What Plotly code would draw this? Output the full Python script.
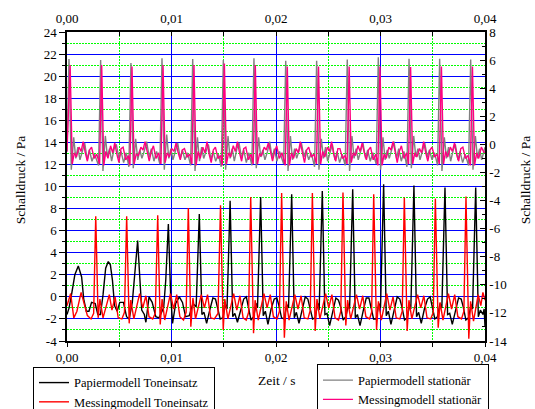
import plotly.graph_objects as go

# ---------------- data (time in ms, pressure in Pa) ----------------
zeit_papier_ton_ms = [
    0.00, 0.20, 0.45, 0.75, 1.08, 1.25, 1.40, 1.60, 1.85, 2.10, 2.35, 2.70, 2.95, 3.20, 3.45, 3.70, 3.95,
    4.15, 4.35, 4.55, 4.80, 5.05, 5.40, 5.70, 5.95, 6.25, 6.50, 6.76,
    6.95, 7.15, 7.40, 7.55, 7.85, 8.15, 8.50, 8.80, 9.25, 9.45, 9.70,
    9.92, 10.10, 10.40, 10.75, 11.05, 11.35, 11.70, 12.05, 12.36, 12.66,
    12.91, 13.11, 13.36, 13.66, 13.96, 14.21, 14.41, 14.66, 14.91, 15.16, 15.31, 15.61,
    15.86, 16.06, 16.31, 16.61, 16.91, 17.16, 17.36, 17.61, 17.86, 18.11, 18.23, 18.53,
    18.78, 18.98, 19.23, 19.53, 19.83, 20.08, 20.28, 20.53, 20.78, 21.03, 21.20, 21.50,
    21.75, 21.95, 22.20, 22.50, 22.80, 23.05, 23.25, 23.50, 23.75, 24.00, 24.13, 24.43,
    24.68, 24.88, 25.13, 25.43, 25.73, 25.98, 26.18, 26.43, 26.68, 26.93, 27.04, 27.34,
    27.59, 27.79, 28.04, 28.34, 28.64, 28.89, 29.09, 29.34, 29.59, 29.84, 30.00, 30.30,
    30.55, 30.75, 31.00, 31.30, 31.60, 31.85, 32.05, 32.30, 32.55, 32.80, 32.90, 33.20,
    33.45, 33.65, 33.90, 34.20, 34.50, 34.75, 34.95, 35.20, 35.45, 35.70, 35.87, 36.17,
    36.42, 36.62, 36.87, 37.17, 37.47, 37.72, 37.92, 38.17, 38.42, 38.67, 38.81, 39.11,
    39.36, 39.56, 39.80, 39.92, 40.00]
druck_papier_ton = [
    -1.6, -1.0, 0.3, 2.0, 2.8, 2.3, 1.8, -0.2, -1.3, -1.3, -0.5, -0.6, -1.6, -1.6, 0.2, 2.6, 3.2,
    2.9, 1.5, -0.8, -1.3, -0.5, -0.5, -1.8, -2.0, -0.5, 2.2, 5.1,
    2.0, -1.2, -1.6, -2.3, 0.0, -0.5, -1.8, -1.9, -1.0, 1.5, 6.6,
    0.2, -2.4, -0.6, 0.0, -0.5, -1.8, -1.7, -0.6, -0.9, 7.5,
    -1.6, -1.4, -2.4, -1.2, -0.1, -0.2, -0.9, -2.0, -1.9, -0.7, -1.1, 8.7,
    -1.8, -1.5, -2.3, -1.3, -0.2, 0.0, -1.0, -2.1, -1.8, -0.6, -1.0, 9.05,
    -1.7, -1.3, -2.5, -1.1, -0.2, -0.1, -0.8, -1.9, -2.0, -0.7, -1.0, 9.3,
    -1.9, -1.4, -2.4, -1.3, 0.0, -0.2, -1.0, -2.0, -1.9, -0.6, -1.2, 9.6,
    -1.6, -1.5, -2.6, -1.2, -0.1, -0.3, -0.9, -2.1, -1.8, -0.7, -1.1, 9.75,
    -1.9, -1.6, -2.6, -1.3, -0.1, -0.1, -1.0, -2.0, -2.0, -0.6, -1.0, 10.2,
    -1.7, -1.3, -2.5, -1.2, 0.0, -0.2, -0.9, -2.1, -1.9, -0.7, -1.1, 10.1,
    -1.8, -1.4, -2.4, -1.1, -0.2, 0.0, -1.0, -2.0, -1.8, -0.6, -1.0, 9.9,
    -1.6, -1.5, -2.5, -1.3, -0.1, -0.2, -0.9, -2.1, -1.9, -0.7, -1.1, 9.9,
    -1.8, -1.2, -1.6, -1.1, -2.7]

zeit_messing_ton_ms = [
    0.00, 0.35, 0.65, 0.95, 1.35, 1.65, 1.95, 2.30, 2.55, 2.75,
    2.98, 3.15, 3.45, 4.05, 4.30, 4.60, 4.90, 5.25, 5.50, 5.71,
    5.95, 6.10, 6.40, 6.95, 7.25, 7.55, 7.85, 8.20, 8.45, 8.68,
    8.92, 9.10, 9.35, 9.90, 10.20, 10.50, 10.80, 11.15, 11.40, 11.61,
    11.85, 12.05, 12.30, 12.85, 13.15, 13.45, 13.75, 14.10, 14.45, 14.69,
    14.95, 15.10, 15.40, 15.95, 16.25, 16.55, 16.85, 17.15, 17.38, 17.58,
    17.85, 18.00, 18.30, 18.85, 19.15, 19.45, 19.75, 20.10, 20.33, 20.54,
    20.80, 20.98, 21.25, 21.80, 22.10, 22.40, 22.70, 23.05, 23.28, 23.48,
    23.75, 23.92, 24.20, 24.75, 25.05, 25.35, 25.65, 25.98, 26.20, 26.41,
    26.68, 26.85, 27.15, 27.70, 28.00, 28.30, 28.60, 28.95, 29.15, 29.35,
    29.62, 29.80, 30.08, 30.60, 30.90, 31.20, 31.50, 31.85, 32.08, 32.28,
    32.55, 32.72, 33.00, 33.55, 33.85, 34.15, 34.45, 34.80, 35.05, 35.25,
    35.52, 35.70, 35.98, 36.50, 36.80, 37.10, 37.40, 37.75, 37.98, 38.18,
    38.45, 38.62, 38.90, 39.35, 39.60, 39.80, 40.00]
druck_messing_ton = [
    -0.8, 0.3, -1.9, -1.3, 0.4, -0.6, -1.7, -2.0, -1.5, 7.3,
    -1.9, -0.2, -1.9, 0.2, -1.2, 0.0, -1.9, -2.0, -1.4, 7.3,
    -2.4, -0.3, -2.0, 0.3, -1.0, 0.1, -1.8, -2.0, -1.5, 7.4,
    -2.5, -0.2, -2.1, 0.3, -1.1, 0.2, -1.8, -2.1, -1.4, 8.05,
    -2.7, -0.1, -2.0, 0.2, -1.0, 0.2, -1.9, -2.0, -1.5, 8.3,
    -3.0, -0.2, -2.0, 0.3, -1.2, 0.1, -1.9, -2.1, -1.4, 9.05,
    -3.3, -0.3, -2.1, 0.3, -1.0, 0.2, -1.8, -2.0, -1.3, 9.4,
    -3.7, -0.4, -2.1, 0.2, -1.1, 0.1, -1.9, -2.0, -1.2, 9.4,
    -3.1, -0.2, -2.0, 0.3, -1.0, 0.2, -1.9, -2.1, -1.3, 9.45,
    -2.6, -0.3, -2.0, 0.2, -1.1, 0.1, -1.8, -2.0, -1.4, 9.3,
    -3.0, -0.4, -2.1, 0.3, -1.2, 0.0, -1.9, -2.0, -1.3, 9.0,
    -3.1, -0.3, -2.0, 0.2, -1.0, 0.1, -1.9, -2.0, -1.4, 8.9,
    -2.8, -0.5, -2.1, 0.3, -1.1, 0.2, -1.8, -2.0, -1.3, 9.1,
    -3.8, -0.4, -2.2, 0.2, -0.8, 0.4, -0.3]

zeit_papier_stat_ms = [
    0.00, 0.19,
    0.41, 0.64, 0.84, 1.04, 1.24, 1.49, 1.69, 1.94, 2.14, 2.39, 2.64, 3.02, 3.22,
    3.44, 3.67, 3.87, 4.07, 4.27, 4.52, 4.72, 4.97, 5.17, 5.42, 5.67, 5.92, 6.12,
    6.34, 6.57, 6.77, 6.97, 7.17, 7.42, 7.62, 7.87, 8.07, 8.32, 8.57, 8.89, 9.09,
    9.31, 9.54, 9.74, 9.94, 10.14, 10.39, 10.59, 10.84, 11.04, 11.29, 11.54, 11.83, 12.03,
    12.25, 12.48, 12.68, 12.88, 13.08, 13.33, 13.53, 13.78, 13.98, 14.23, 14.48, 14.76, 14.96,
    15.18, 15.41, 15.61, 15.81, 16.01, 16.26, 16.46, 16.71, 16.91, 17.16, 17.41, 17.69, 17.89,
    18.11, 18.34, 18.54, 18.74, 18.94, 19.19, 19.39, 19.64, 19.84, 20.09, 20.34, 20.73, 20.93,
    21.15, 21.38, 21.58, 21.78, 21.98, 22.23, 22.43, 22.68, 22.88, 23.13, 23.38, 23.69, 23.89,
    24.11, 24.34, 24.54, 24.74, 24.94, 25.19, 25.39, 25.64, 25.84, 26.09, 26.34, 26.62, 26.82,
    27.04, 27.27, 27.47, 27.67, 27.87, 28.12, 28.32, 28.57, 28.77, 29.02, 29.27, 29.59, 29.79,
    30.01, 30.24, 30.44, 30.64, 30.84, 31.09, 31.29, 31.54, 31.74, 31.99, 32.24, 32.53, 32.73,
    32.95, 33.18, 33.38, 33.58, 33.78, 34.03, 34.23, 34.48, 34.68, 34.93, 35.18, 35.46, 35.66,
    35.88, 36.11, 36.31, 36.51, 36.71, 36.96, 37.16, 37.41, 37.61, 37.86, 38.11, 38.43, 38.63,
    38.85, 39.08, 39.28, 39.48, 39.68, 39.93, 40.00]
druck_papier_stat = [
    -0.5, 6.08,
    -1.8, 0.5, -1.0, -0.2, -1.1, -0.5, 0.1, -1.1, -0.4, -1.2, -0.7, -1.5, 6.0,
    -1.9, 0.6, -0.9, -0.3, -1.2, -0.3, 0.0, -1.0, -0.5, -1.3, -0.6, -1.6, 5.8,
    -1.7, 0.4, -1.1, -0.4, -1.0, -0.4, 0.2, -0.9, -0.3, -1.2, -0.5, -1.4, 6.13,
    -1.8, 0.7, -1.0, -0.3, -1.1, -0.5, 0.1, -1.0, -0.4, -1.1, -0.6, -1.5, 6.08,
    -1.9, 0.5, -1.2, -0.2, -1.0, -0.4, 0.0, -1.1, -0.5, -1.2, -0.7, -1.6, 6.0,
    -1.8, 0.6, -1.0, -0.3, -1.2, -0.3, 0.1, -1.0, -0.4, -1.3, -0.6, -1.5, 6.13,
    -1.7, 0.5, -0.9, -0.4, -1.1, -0.5, 0.2, -1.0, -0.3, -1.2, -0.5, -1.4, 5.95,
    -1.9, 0.6, -1.1, -0.3, -1.0, -0.4, 0.1, -0.9, -0.4, -1.1, -0.6, -1.6, 5.95,
    -1.8, 0.4, -1.0, -0.2, -1.2, -0.5, 0.0, -1.1, -0.5, -1.3, -0.7, -1.5, 6.05,
    -1.9, 0.6, -1.0, -0.3, -1.1, -0.4, 0.1, -1.0, -0.4, -1.2, -0.6, -1.4, 6.2,
    -1.8, 0.5, -1.1, -0.4, -1.0, -0.3, 0.2, -1.0, -0.3, -1.2, -0.5, -1.6, 6.1,
    -1.7, 0.6, -0.9, -0.3, -1.1, -0.5, 0.1, -0.9, -0.4, -1.1, -0.6, -1.5, 6.1,
    -1.9, 0.5, -1.0, -0.2, -1.2, -0.4, 0.0, -1.1, -0.5, -1.3, -0.7, -1.5, 6.05,
    -1.8, 0.6, -1.0, -0.3, -1.1, -0.4, -0.2]

zeit_messing_stat_ms = [
    0.00, 0.30,
    0.50, 0.70, 0.90, 1.15, 1.35, 1.55, 1.75, 1.95, 2.15, 2.35, 2.60, 2.85, 3.12, 3.32,
    3.52, 3.72, 3.92, 4.17, 4.37, 4.57, 4.77, 4.97, 5.17, 5.37, 5.62, 5.87, 6.02, 6.22,
    6.42, 6.62, 6.82, 7.07, 7.27, 7.47, 7.67, 7.87, 8.07, 8.27, 8.52, 8.77, 8.99, 9.19,
    9.39, 9.59, 9.79, 10.04, 10.24, 10.44, 10.64, 10.84, 11.04, 11.24, 11.49, 11.74, 11.95, 12.15,
    12.35, 12.55, 12.75, 13.00, 13.20, 13.40, 13.60, 13.80, 14.00, 14.20, 14.45, 14.70, 14.86, 15.06,
    15.26, 15.46, 15.66, 15.91, 16.11, 16.31, 16.51, 16.71, 16.91, 17.11, 17.36, 17.61, 17.82, 18.02,
    18.22, 18.42, 18.62, 18.87, 19.07, 19.27, 19.47, 19.67, 19.87, 20.07, 20.32, 20.57, 20.88, 21.08,
    21.28, 21.48, 21.68, 21.93, 22.13, 22.33, 22.53, 22.73, 22.93, 23.13, 23.38, 23.63, 23.87, 24.07,
    24.27, 24.47, 24.67, 24.92, 25.12, 25.32, 25.52, 25.72, 25.92, 26.12, 26.37, 26.62, 26.80, 27.00,
    27.20, 27.40, 27.60, 27.85, 28.05, 28.25, 28.45, 28.65, 28.85, 29.05, 29.30, 29.55, 29.75, 29.95,
    30.15, 30.35, 30.55, 30.80, 31.00, 31.20, 31.40, 31.60, 31.80, 32.00, 32.25, 32.50, 32.68, 32.88,
    33.08, 33.28, 33.48, 33.73, 33.93, 34.13, 34.33, 34.53, 34.73, 34.93, 35.18, 35.43, 35.63, 35.83,
    36.03, 36.23, 36.43, 36.68, 36.88, 37.08, 37.28, 37.48, 37.68, 37.88, 38.13, 38.38, 38.60, 38.80,
    39.00, 39.20, 39.40, 39.65, 39.85, 40.00]
druck_messing_stat = [
    -0.5, 5.65,
    -1.4, -0.6, -0.9, -0.2, -0.5, 0.2, -0.6, -1.2, -0.4, -0.2, -1.0, -0.7, -1.4, 5.65,
    -1.5, -0.5, -1.0, -0.1, -0.6, 0.1, -0.7, -1.3, -0.3, -0.2, -1.1, -0.8, -1.5, 5.55,
    -1.4, -0.7, -0.8, -0.2, -0.4, 0.2, -0.5, -1.2, -0.5, -0.1, -1.0, -0.6, -1.4, 5.65,
    -1.3, -0.6, -0.9, -0.3, -0.5, 0.1, -0.6, -1.1, -0.4, -0.3, -0.9, -0.7, -1.4, 5.65,
    -1.5, -0.5, -1.0, -0.2, -0.6, 0.2, -0.7, -1.3, -0.4, -0.2, -1.0, -0.8, -1.5, 5.75,
    -1.4, -0.6, -0.9, -0.1, -0.5, 0.2, -0.6, -1.2, -0.3, -0.2, -1.1, -0.7, -1.4, 5.65,
    -1.4, -0.7, -0.8, -0.2, -0.4, 0.1, -0.5, -1.2, -0.5, -0.1, -1.0, -0.6, -1.5, 5.55,
    -1.5, -0.6, -1.0, -0.3, -0.6, 0.2, -0.6, -1.3, -0.4, -0.2, -0.9, -0.7, -1.4, 5.55,
    -1.4, -0.5, -0.9, -0.2, -0.5, 0.2, -0.7, -1.2, -0.3, -0.3, -1.0, -0.8, -1.4, 5.55,
    -1.3, -0.6, -0.8, -0.1, -0.5, 0.1, -0.6, -1.1, -0.4, -0.2, -1.1, -0.7, -1.5, 5.55,
    -1.5, -0.7, -1.0, -0.2, -0.4, 0.2, -0.5, -1.3, -0.5, -0.1, -1.0, -0.6, -1.4, 5.5,
    -1.4, -0.6, -0.9, -0.3, -0.6, 0.2, -0.6, -1.2, -0.4, -0.2, -0.9, -0.7, -1.4, 5.55,
    -1.4, -0.5, -0.9, -0.2, -0.5, 0.1, -0.7, -1.2, -0.3, -0.2, -1.0, -0.8, -1.5, 5.55,
    -1.5, -0.6, -1.0, -0.2, -0.5, -0.6]

# ticks
x_ticks = [0.00, 0.01, 0.02, 0.03, 0.04]
x_ticklabels = ["0,00", "0,01", "0,02", "0,03", "0,04"]
x_minor = [0.005, 0.015, 0.025, 0.035]
yl_ticks = [-4, -2, 0, 2, 4, 6, 8, 10, 12, 14, 16, 18, 20, 22, 24]
yl_ticklabels = ["-4", "-2", "0", "2", "4", "6", "8", "10", "12", "14", "16", "18", "20", "22", "24"]
yl_minor = [-3, -1, 1, 3, 5, 7, 9, 11, 13, 15, 17, 19, 21, 23]
yr_ticks = [-14, -12, -10, -8, -6, -4, -2, 0, 2, 4, 6, 8]
yr_ticklabels = ["-14", "-12", "-10", "-8", "-6", "-4", "-2", "0", "2", "4", "6", "8"]
yr_minor = [-13, -11, -9, -7, -5, -3, -1, 1, 3, 5, 7]

series = [
    ("Papiermodell Toneinsatz", zeit_papier_ton_ms, druck_papier_ton, "#000000", "y", "legend"),
    ("Messingmodell Toneinsatz", zeit_messing_ton_ms, druck_messing_ton, "#ff0000", "y", "legend"),
    ("Papiermodell stationär", zeit_papier_stat_ms, druck_papier_stat, "#808080", "y2", "legend2"),
    ("Messingmodell stationär", zeit_messing_stat_ms, druck_messing_stat, "#ff0080", "y2", "legend2"),
]
for name, t, p, *_ in series:
    assert len(t) == len(p), (name, len(t), len(p))

FONT = "Liberation Serif"

fig = go.Figure()
for name, t, p, col, yax, leg in series:
    fig.add_trace(go.Scatter(
        x=[v / 1000.0 for v in t], y=p, mode="lines", name=name,
        line=dict(color=col, width=1.4), xaxis="x", yaxis=yax, legend=leg,
        hoverinfo="skip"))
# empty trace to register top axis
fig.add_trace(go.Scatter(x=[], y=[], xaxis="x2", yaxis="y", showlegend=False, hoverinfo="skip"))

tickfont = dict(family=FONT, size=13, color="black")
GREEN = "#00ff00"
BLUE = "#0000ff"
DOTS = "2px,1px"

fig.update_layout(
    template="none",
    width=535, height=409, autosize=False,
    margin=dict(l=67, r=50, t=32, b=68, autoexpand=False),
    paper_bgcolor="white", plot_bgcolor="white",
    font=dict(family=FONT, size=13, color="black"),
    xaxis=dict(
        range=[0, 0.04], tickmode="array", tickvals=x_ticks, ticktext=x_ticklabels,
        ticks="outside", ticklen=4, tickwidth=1, tickcolor="black", tickfont=tickfont,
        showgrid=True, gridcolor=BLUE, gridwidth=1, zeroline=False,
        showline=True, linecolor="black", linewidth=1.5,
        minor=dict(tickvals=x_minor, ticks="outside", ticklen=4, tickcolor="black",
                   showgrid=True, gridcolor=GREEN, gridwidth=1, griddash=DOTS),
    ),
    xaxis2=dict(
        overlaying="x", side="top", range=[0, 0.04], tickmode="array",
        tickvals=x_ticks, ticktext=x_ticklabels, ticklabelstandoff=2,
        ticks="inside", ticklen=4, tickwidth=1, tickcolor="black", tickfont=tickfont,
        showgrid=False, zeroline=False, showline=True, linecolor="black", linewidth=1.5,
        minor=dict(tickvals=x_minor, ticks="inside", ticklen=4, tickcolor="black",
                   showgrid=False),
    ),
    yaxis=dict(
        range=[-4, 24], tickmode="array", tickvals=yl_ticks, ticktext=yl_ticklabels,
        ticks="outside", ticklen=6, tickwidth=1, tickcolor="black", tickfont=tickfont,
        showgrid=True, gridcolor=BLUE, gridwidth=1, zeroline=False,
        showline=True, linecolor="black", linewidth=1.5,
        minor=dict(tickvals=yl_minor, ticks="outside", ticklen=3, tickcolor="black",
                   showgrid=True, gridcolor=GREEN, gridwidth=1, griddash=DOTS),
    ),
    yaxis2=dict(
        overlaying="y", side="right", range=[-14, 8], tickmode="array",
        tickvals=yr_ticks, ticktext=yr_ticklabels,
        ticks="inside", ticklen=5, tickwidth=1, tickcolor="black", tickfont=tickfont,
        showgrid=False, zeroline=False, showline=True, linecolor="black", linewidth=1.5,
        minor=dict(tickvals=yr_minor, ticks="inside", ticklen=3, tickcolor="black",
                   showgrid=False),
    ),
    legend=dict(
        x=-0.0813, y=-0.084, xanchor="left", yanchor="top",
        bgcolor="white", bordercolor="black", borderwidth=1,
        font=dict(family=FONT, size=12.5, color="black"), tracegroupgap=0,
    ),
    legend2=dict(
        x=0.598, y=-0.076, xanchor="left", yanchor="top",
        bgcolor="white", bordercolor="black", borderwidth=1,
        font=dict(family=FONT, size=12.5, color="black"), tracegroupgap=0,
    ),
    annotations=[
        dict(text="Schalldruck / Pa", xref="paper", yref="paper", x=-0.1124, y=0.52,
             xanchor="center", yanchor="middle", textangle=-90, showarrow=False,
             font=dict(family=FONT, size=13.5, color="black")),
        dict(text="Schalldruck / Pa", xref="paper", yref="paper", x=1.0957, y=0.52,
             xanchor="center", yanchor="middle", textangle=-90, showarrow=False,
             font=dict(family=FONT, size=13.5, color="black")),
        dict(text="Zeit / s", xref="paper", yref="paper", x=0.502, y=-0.129,
             xanchor="center", yanchor="middle", showarrow=False,
             font=dict(family=FONT, size=13.5, color="black")),
    ],
    showlegend=True,
)

fig.write_html("out.html")
